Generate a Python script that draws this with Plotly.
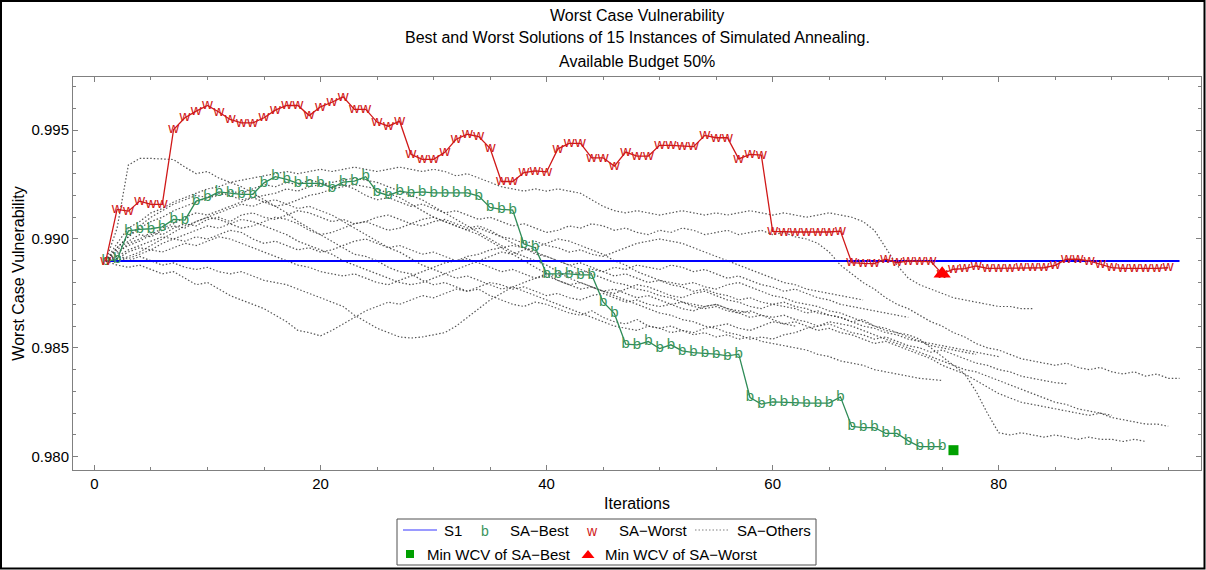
import plotly.graph_objects as go

# ---------------- data ----------------
s1_iterations = [1, 96]
s1_values = [0.98899, 0.98899]

best_values = [
    0.98899, 0.98905, 0.99037, 0.99044, 0.99047, 0.99056, 0.99090, 0.99087, 0.99174, 0.99190,
    0.99216, 0.99212, 0.99205, 0.99205, 0.99258, 0.99286, 0.99274, 0.99255, 0.99255, 0.99255,
    0.99235, 0.99261, 0.99266, 0.99286, 0.99216, 0.99200, 0.99220, 0.99212, 0.99216, 0.99212,
    0.99212, 0.99212, 0.99212, 0.99197, 0.99145, 0.99136, 0.99133, 0.98977, 0.98960, 0.98840,
    0.98840, 0.98840, 0.98835, 0.98835, 0.98711, 0.98657, 0.98517, 0.98514, 0.98529, 0.98497,
    0.98514, 0.98486, 0.98478, 0.98476, 0.98471, 0.98463, 0.98471, 0.98272, 0.98242, 0.98252,
    0.98249, 0.98249, 0.98246, 0.98246, 0.98246, 0.98275, 0.98139, 0.98134, 0.98134, 0.98107,
    0.98107, 0.98073, 0.98046, 0.98046, 0.98046,
]

worst_values = [
    0.98899, 0.99136, 0.99128, 0.99174, 0.99159, 0.99159, 0.99503, 0.99557, 0.99587, 0.99613,
    0.99583, 0.99549, 0.99533, 0.99533, 0.99557, 0.99592, 0.99613, 0.99613, 0.99567, 0.99607,
    0.99628, 0.99653, 0.99595, 0.99595, 0.99537, 0.99518, 0.99541, 0.99389, 0.99366, 0.99366,
    0.99398, 0.99458, 0.99481, 0.99470, 0.99416, 0.99264, 0.99264, 0.99305, 0.99313, 0.99308,
    0.99414, 0.99439, 0.99439, 0.99373, 0.99373, 0.99335, 0.99399, 0.99381, 0.99381, 0.99430,
    0.99430, 0.99427, 0.99424, 0.99476, 0.99465, 0.99465, 0.99368, 0.99389, 0.99385, 0.99035,
    0.99032, 0.99032, 0.99033, 0.99032, 0.99032, 0.99036, 0.98891, 0.98888, 0.98887, 0.98907,
    0.98891, 0.98899, 0.98899, 0.98896, 0.98840, 0.98861, 0.98864, 0.98876, 0.98865, 0.98865,
    0.98865, 0.98868, 0.98868, 0.98868, 0.98879, 0.98907, 0.98907, 0.98899, 0.98884, 0.98868,
    0.98865, 0.98865, 0.98864, 0.98865, 0.98868,
]

best_min_iteration = [76]
best_min_value = [0.98030]
worst_min_iteration = [75]
worst_min_value = [0.98840]

# the 13 remaining annealing runs (grey, dotted)
others_01 = [
    0.98899, 0.99050, 0.99340, 0.99370, 0.99370, 0.99368, 0.99365, 0.99330, 0.99300, 0.99310,
    0.99280, 0.99260, 0.99240, 0.99210, 0.99180, 0.99150, 0.99120, 0.99080, 0.99050, 0.99020,
    0.98990, 0.98960, 0.98930, 0.98920, 0.98900, 0.98870, 0.98850, 0.98840, 0.98810, 0.98790,
    0.98800, 0.98780, 0.98760, 0.98770, 0.98740, 0.98720, 0.98700, 0.98690, 0.98710, 0.98700,
    0.98680, 0.98660, 0.98650, 0.98670, 0.98640, 0.98620, 0.98610, 0.98630, 0.98600, 0.98590,
    0.98600, 0.98580, 0.98570, 0.98590, 0.98600, 0.98610, 0.98590, 0.98580, 0.98600, 0.98620,
    0.98610, 0.98600,
]
others_02 = [
    0.98899, 0.98960, 0.99010, 0.99050, 0.99080, 0.99100, 0.99130, 0.99150, 0.99170, 0.99190,
    0.99200, 0.99220, 0.99210, 0.99230, 0.99250, 0.99240, 0.99260, 0.99250, 0.99270, 0.99260,
    0.99240, 0.99250, 0.99230, 0.99200, 0.99180, 0.99190, 0.99170, 0.99150, 0.99160, 0.99140,
    0.99120, 0.99130, 0.99110, 0.99090, 0.99100, 0.99080, 0.99060, 0.99070, 0.99050, 0.99030,
    0.99040, 0.99060, 0.99050, 0.99070, 0.99060, 0.99040, 0.99050, 0.99030, 0.99020, 0.99040,
    0.99030, 0.99050, 0.99040, 0.99020, 0.99030, 0.99040, 0.99020, 0.99030, 0.99040, 0.99020,
    0.99030, 0.99010, 0.99000, 0.98980, 0.98940, 0.98880, 0.98840, 0.98800, 0.98770, 0.98730,
    0.98700, 0.98680, 0.98650, 0.98620, 0.98600, 0.98570, 0.98550, 0.98520, 0.98500, 0.98490,
    0.98470, 0.98450, 0.98440, 0.98430, 0.98420, 0.98430, 0.98410, 0.98400, 0.98410, 0.98390,
    0.98380, 0.98390, 0.98370, 0.98380, 0.98360, 0.98360,
]
others_03 = [
    0.98899, 0.98930, 0.98980, 0.99000, 0.99030, 0.99020, 0.99050, 0.99070, 0.99060, 0.99090,
    0.99100, 0.99080, 0.99110, 0.99120, 0.99100, 0.99090, 0.99110, 0.99130, 0.99120, 0.99100,
    0.99080, 0.99090, 0.99070, 0.99080, 0.99100, 0.99110, 0.99090, 0.99070, 0.99060, 0.99080,
    0.99090, 0.99070, 0.99050, 0.99060, 0.99040, 0.99010, 0.98980, 0.98960, 0.98930, 0.98920,
    0.98900, 0.98880, 0.98890, 0.98870, 0.98850, 0.98830, 0.98840, 0.98820, 0.98800, 0.98810,
    0.98790, 0.98780, 0.98760, 0.98770, 0.98750, 0.98740, 0.98720, 0.98730, 0.98710, 0.98700,
    0.98690, 0.98680, 0.98660, 0.98670, 0.98650, 0.98640, 0.98620, 0.98630, 0.98600, 0.98580,
    0.98570, 0.98560, 0.98540, 0.98500, 0.98460, 0.98420, 0.98380, 0.98350, 0.98320, 0.98290,
    0.98270, 0.98250, 0.98240, 0.98230, 0.98220, 0.98210, 0.98200, 0.98190, 0.98200, 0.98180,
    0.98170, 0.98160, 0.98150, 0.98150, 0.98140,
]
others_04 = [
    0.98899, 0.98910, 0.98940, 0.98960, 0.98950, 0.98980, 0.99000, 0.98990, 0.99010, 0.99000,
    0.99020, 0.99040, 0.99030, 0.99000, 0.98980, 0.98990, 0.98970, 0.98950, 0.98960, 0.98940,
    0.98950, 0.98970, 0.98990, 0.99000, 0.98980, 0.98960, 0.98970, 0.98950, 0.98930, 0.98940,
    0.98920, 0.98900, 0.98910, 0.98890, 0.98870, 0.98850, 0.98860, 0.98840, 0.98820, 0.98830,
    0.98810, 0.98790, 0.98800, 0.98780, 0.98760, 0.98770, 0.98750, 0.98730, 0.98740, 0.98720,
    0.98700, 0.98710, 0.98690, 0.98680, 0.98690, 0.98670, 0.98660, 0.98640, 0.98650, 0.98630,
    0.98610, 0.98620, 0.98600, 0.98580, 0.98590, 0.98570, 0.98560, 0.98540, 0.98520, 0.98530,
    0.98510, 0.98490, 0.98470, 0.98450, 0.98420, 0.98400, 0.98380, 0.98300, 0.98200, 0.98110,
    0.98100, 0.98110, 0.98100, 0.98090, 0.98100, 0.98090, 0.98080, 0.98090, 0.98080, 0.98080,
    0.98070, 0.98080, 0.98070,
]
others_05 = [
    0.98899, 0.98880, 0.98870, 0.98880, 0.98860, 0.98840, 0.98850, 0.98820, 0.98790, 0.98800,
    0.98770, 0.98740, 0.98720, 0.98700, 0.98680, 0.98650, 0.98620, 0.98580, 0.98570, 0.98555,
    0.98580, 0.98610, 0.98640, 0.98670, 0.98690, 0.98710, 0.98700, 0.98720, 0.98740, 0.98730,
    0.98750, 0.98770, 0.98760, 0.98780, 0.98800, 0.98790, 0.98770, 0.98780, 0.98760, 0.98740,
    0.98750, 0.98730, 0.98720, 0.98740, 0.98750, 0.98730, 0.98710, 0.98720, 0.98700, 0.98690,
    0.98700, 0.98680, 0.98670, 0.98690, 0.98700, 0.98680, 0.98660, 0.98670, 0.98650, 0.98640,
    0.98650, 0.98630, 0.98620, 0.98600, 0.98610, 0.98590, 0.98570, 0.98560, 0.98540, 0.98550,
    0.98530, 0.98510, 0.98500, 0.98480, 0.98490, 0.98470, 0.98450, 0.98430, 0.98420, 0.98400,
    0.98390, 0.98370, 0.98360, 0.98350, 0.98340, 0.98335,
]
others_06 = [
    0.98899, 0.98980, 0.99050, 0.99080, 0.99120, 0.99140, 0.99170, 0.99190, 0.99210, 0.99230,
    0.99240, 0.99260, 0.99270, 0.99280, 0.99290, 0.99300, 0.99310, 0.99300, 0.99310, 0.99320,
    0.99310, 0.99320, 0.99330, 0.99320, 0.99310, 0.99320, 0.99330, 0.99320, 0.99310, 0.99320,
    0.99310, 0.99290, 0.99300, 0.99280, 0.99260, 0.99240, 0.99230, 0.99220, 0.99230, 0.99220,
    0.99230, 0.99220, 0.99210, 0.99180, 0.99150, 0.99130, 0.99120, 0.99130, 0.99120, 0.99110,
    0.99120, 0.99130, 0.99120, 0.99110, 0.99120, 0.99110, 0.99120, 0.99130, 0.99120, 0.99110,
    0.99120, 0.99110, 0.99100, 0.99110, 0.99120, 0.99110, 0.99100, 0.99080, 0.99040, 0.98960,
    0.98880, 0.98820, 0.98790, 0.98770, 0.98750, 0.98730, 0.98720, 0.98710, 0.98700, 0.98690,
    0.98690, 0.98680, 0.98680,
]
others_07 = [
    0.98899, 0.98950, 0.98990, 0.99020, 0.99010, 0.99040, 0.99060, 0.99050, 0.99080, 0.99100,
    0.99120, 0.99140, 0.99160, 0.99150, 0.99170, 0.99180, 0.99160, 0.99140, 0.99150, 0.99130,
    0.99110, 0.99080, 0.99050, 0.99020, 0.98990, 0.98960, 0.98940, 0.98910, 0.98880, 0.98860,
    0.98840, 0.98820, 0.98830, 0.98810, 0.98790, 0.98770, 0.98780, 0.98760, 0.98740, 0.98720,
    0.98700, 0.98680, 0.98660, 0.98640, 0.98620, 0.98600, 0.98590, 0.98580, 0.98600, 0.98590,
    0.98570, 0.98580, 0.98560, 0.98570, 0.98550, 0.98560, 0.98540, 0.98550, 0.98530, 0.98520,
    0.98510, 0.98500, 0.98490, 0.98470, 0.98460, 0.98440, 0.98430, 0.98420, 0.98400, 0.98390,
    0.98380, 0.98370, 0.98360, 0.98355, 0.98350,
]
others_08 = [
    0.98899, 0.98910, 0.98900, 0.98920, 0.98900, 0.98880, 0.98890, 0.98870, 0.98860, 0.98870,
    0.98850, 0.98840, 0.98850, 0.98830, 0.98810, 0.98800, 0.98790, 0.98770, 0.98750, 0.98730,
    0.98710, 0.98690, 0.98650, 0.98620, 0.98590, 0.98570, 0.98550, 0.98545, 0.98550, 0.98560,
    0.98570, 0.98600, 0.98640, 0.98680, 0.98720, 0.98750, 0.98780, 0.98800, 0.98820, 0.98840,
    0.98830, 0.98850, 0.98840, 0.98860, 0.98850, 0.98870, 0.98860, 0.98880, 0.98870, 0.98860,
    0.98880, 0.98870, 0.98850, 0.98860, 0.98840, 0.98820, 0.98830, 0.98810, 0.98790, 0.98780,
    0.98760, 0.98770, 0.98750, 0.98730, 0.98720, 0.98700, 0.98690, 0.98680, 0.98670, 0.98660,
    0.98650, 0.98640,
]
others_09 = [
    0.98899, 0.98960, 0.99010, 0.99060, 0.99100, 0.99130, 0.99160, 0.99180, 0.99200, 0.99190,
    0.99210, 0.99200, 0.99180, 0.99190, 0.99170, 0.99150, 0.99160, 0.99180, 0.99200, 0.99210,
    0.99230, 0.99240, 0.99250, 0.99240, 0.99230, 0.99210, 0.99190, 0.99160, 0.99130, 0.99100,
    0.99080, 0.99060, 0.99040, 0.99050, 0.99030, 0.99010, 0.99000, 0.98980, 0.98990, 0.98970,
    0.98960, 0.98940, 0.98950, 0.98930, 0.98920, 0.98940, 0.98960, 0.98980, 0.98990, 0.99000,
    0.98990, 0.98980, 0.98960, 0.98940, 0.98920, 0.98900, 0.98880, 0.98860, 0.98840, 0.98820,
    0.98800, 0.98790, 0.98770, 0.98760, 0.98750, 0.98740, 0.98730, 0.98720,
]
others_10 = [
    0.98899, 0.98920, 0.98950, 0.98970, 0.98990, 0.99010, 0.99000, 0.99020, 0.99040, 0.99060,
    0.99050, 0.99070, 0.99090, 0.99080, 0.99060, 0.99040, 0.99020, 0.98990, 0.98970, 0.98950,
    0.98930, 0.98900, 0.98880, 0.98860, 0.98840, 0.98820, 0.98800, 0.98790, 0.98800, 0.98820,
    0.98840, 0.98860, 0.98880, 0.98900, 0.98920, 0.98940, 0.98930, 0.98950, 0.98960, 0.98980,
    0.99000, 0.98990, 0.98970, 0.98950, 0.98930, 0.98900, 0.98880, 0.98850, 0.98830, 0.98810,
    0.98800, 0.98790, 0.98800, 0.98780, 0.98770, 0.98790, 0.98800, 0.98780, 0.98760, 0.98740,
    0.98730, 0.98710, 0.98700, 0.98690, 0.98670, 0.98660, 0.98640, 0.98620, 0.98600, 0.98590,
    0.98570, 0.98550, 0.98530, 0.98520, 0.98510, 0.98500, 0.98490, 0.98480, 0.98470, 0.98460,
]
others_11 = [
    0.98899, 0.98940, 0.98970, 0.98990, 0.99020, 0.99050, 0.99070, 0.99100, 0.99120, 0.99110,
    0.99130, 0.99150, 0.99170, 0.99190, 0.99200, 0.99210, 0.99230, 0.99220, 0.99240, 0.99250,
    0.99260, 0.99270, 0.99280, 0.99270, 0.99260, 0.99240, 0.99220, 0.99200, 0.99180, 0.99150,
    0.99120, 0.99090, 0.99060, 0.99030, 0.99000, 0.98970, 0.98940, 0.98920, 0.98900, 0.98880,
    0.98850, 0.98820, 0.98800, 0.98780, 0.98760, 0.98740, 0.98720, 0.98700, 0.98680, 0.98660,
    0.98650, 0.98630, 0.98620, 0.98600, 0.98590, 0.98570, 0.98560, 0.98540, 0.98550, 0.98540,
    0.98560, 0.98570, 0.98590, 0.98600, 0.98620, 0.98610, 0.98600, 0.98580, 0.98560, 0.98540,
    0.98520, 0.98500, 0.98480, 0.98460, 0.98440, 0.98420, 0.98400, 0.98390, 0.98370, 0.98350,
    0.98330, 0.98310, 0.98290, 0.98270, 0.98250, 0.98240, 0.98220, 0.98210, 0.98200, 0.98190,
]
others_12 = [
    0.98899, 0.98920, 0.98910, 0.98930, 0.98950, 0.98940, 0.98960, 0.98980, 0.98970, 0.98990,
    0.99010, 0.99000, 0.98980, 0.98960, 0.98940, 0.98920, 0.98900, 0.98880, 0.98870, 0.98850,
    0.98840, 0.98830, 0.98840, 0.98820, 0.98800, 0.98790, 0.98810, 0.98830, 0.98850, 0.98870,
    0.98890, 0.98900, 0.98920, 0.98930, 0.98950, 0.98960, 0.98970, 0.98960, 0.98940, 0.98920,
    0.98900, 0.98880, 0.98860, 0.98840, 0.98820, 0.98800, 0.98790, 0.98770, 0.98760, 0.98740,
    0.98730, 0.98710, 0.98700, 0.98690, 0.98700, 0.98680, 0.98670, 0.98660,
]
others_13 = [
    0.98899, 0.98900, 0.98920, 0.98940, 0.98970, 0.99000, 0.99030, 0.99060, 0.99080, 0.99100,
    0.99090, 0.99070, 0.99050, 0.99060, 0.99080, 0.99100, 0.99090, 0.99070, 0.99040, 0.99020,
    0.99030, 0.99050, 0.99070, 0.99080, 0.99060, 0.99040, 0.99050, 0.99070, 0.99090, 0.99100,
    0.99080, 0.99060, 0.99040, 0.99020, 0.98990, 0.98960, 0.98930, 0.98900, 0.98870, 0.98840,
    0.98810, 0.98790, 0.98770, 0.98780, 0.98760, 0.98750, 0.98770, 0.98790, 0.98780, 0.98760,
    0.98740, 0.98730, 0.98750, 0.98760, 0.98740, 0.98720, 0.98710, 0.98690, 0.98680, 0.98700,
    0.98710, 0.98690, 0.98680, 0.98660, 0.98650, 0.98640, 0.98620, 0.98600, 0.98590, 0.98570,
    0.98560, 0.98540, 0.98530, 0.98510, 0.98500, 0.98490, 0.98480, 0.98470,
]
others_runs = [others_01, others_02, others_03, others_04, others_05, others_06, others_07,
               others_08, others_09, others_10, others_11, others_12, others_13]

title_lines = ["Worst Case Vulnerability",
               "Best and Worst Solutions of 15 Instances of Simulated Annealing.",
               "Available Budget 50%"]

# ---------------- styling ----------------
FONT = "Liberation Sans, Arial, sans-serif"
W, H = 1206, 570
PLOT_L, PLOT_R, PLOT_T, PLOT_B = 73, 1201, 77, 470
AXIS_GREY = "#808080"
BLUE = "#0000ff"
GREEN_LINE = "#2e8b57"
GREEN_TXT = "#3a955c"
RED = "#d01818"
OTHERS = "rgba(55,55,55,0.85)"


def px_x(px):
    return (px - PLOT_L) / (PLOT_R - PLOT_L)


def px_y(py):
    return (PLOT_B - py) / (PLOT_B - PLOT_T)


def iters(vals):
    return list(range(1, len(vals) + 1))


fig = go.Figure()

for run in others_runs:
    fig.add_trace(go.Scatter(
        x=iters(run), y=run, mode="lines",
        line=dict(color=OTHERS, width=1.2, dash="1.5px,2px"),
        showlegend=False, hoverinfo="skip"))

fig.add_trace(go.Scatter(
    x=s1_iterations, y=s1_values, mode="lines", name="S1",
    line=dict(color=BLUE, width=2), showlegend=False))

fig.add_trace(go.Scatter(
    x=iters(best_values), y=best_values, mode="lines+text", name="SA-Best",
    text=["b"] * len(best_values), textposition="middle center",
    textfont=dict(family=FONT, size=15, color=GREEN_TXT),
    line=dict(color=GREEN_LINE, width=1.3), showlegend=False))

fig.add_trace(go.Scatter(
    x=iters(worst_values), y=worst_values, mode="lines+text", name="SA-Worst",
    text=["w"] * len(worst_values), textposition="middle center",
    textfont=dict(family=FONT, size=15, color=RED),
    line=dict(color=RED, width=1.3), showlegend=False))

fig.add_trace(go.Scatter(
    x=best_min_iteration, y=best_min_value, mode="markers",
    marker=dict(symbol="square", size=10, color="#00a000"), showlegend=False))
fig.add_trace(go.Scatter(
    x=worst_min_iteration, y=worst_min_value, mode="markers",
    marker=dict(symbol="triangle-up", size=15, color="#ff0000"), showlegend=False))

# ---------------- titles and hand-built legend ----------------
annotations = []
for text, py in zip(title_lines, [15, 38, 61]):
    annotations.append(dict(text=text, x=0.5, y=px_y(py), xref="paper", yref="paper",
                            xanchor="center", yanchor="middle", showarrow=False,
                            font=dict(family=FONT, size=16, color="black")))

row1, row2 = 530, 554
legend_texts = [("S1", 442, row1), ("SA\u2212Best", 508, row1), ("SA\u2212Worst", 617, row1),
                ("SA\u2212Others", 735, row1), ("Min WCV of SA\u2212Best", 425, row2),
                ("Min WCV of SA\u2212Worst", 603, row2)]
for text, px, py in legend_texts:
    annotations.append(dict(text=text, x=px_x(px), y=px_y(py), xref="paper", yref="paper",
                            xanchor="left", yanchor="middle", showarrow=False,
                            font=dict(family=FONT, size=15, color="black")))
for glyph, px, color in [("b", 485, GREEN_TXT), ("w", 592, RED)]:
    annotations.append(dict(text=glyph, x=px_x(px), y=px_y(row1 + 1), xref="paper", yref="paper",
                            xanchor="center", yanchor="middle", showarrow=False,
                            font=dict(family=FONT, size=14, color=color)))

shapes = [
    # outer frame of the picture
    dict(type="rect", xref="paper", yref="paper", x0=px_x(1), x1=px_x(1204.5),
         y0=px_y(568.5), y1=px_y(1), line=dict(color="black", width=2)),
    # legend box
    dict(type="rect", xref="paper", yref="paper", x0=px_x(397), x1=px_x(816),
         y0=px_y(565), y1=px_y(519), line=dict(color="#505050", width=1)),
    dict(type="line", xref="paper", yref="paper", x0=px_x(403), x1=px_x(437),
         y0=px_y(row1), y1=px_y(row1), line=dict(color="#7878ff", width=1.5)),
    dict(type="line", xref="paper", yref="paper", x0=px_x(695), x1=px_x(728),
         y0=px_y(row1), y1=px_y(row1), line=dict(color="#808080", width=1.2, dash="1.5px,2px")),
    dict(type="rect", xref="paper", yref="paper", x0=px_x(406), x1=px_x(414),
         y0=px_y(558), y1=px_y(550), fillcolor="#00a000", line=dict(width=0)),
    dict(type="path", xref="paper", yref="paper",
         path=f"M {px_x(581.5)} {px_y(558)} L {px_x(594.5)} {px_y(558)} L {px_x(588)} {px_y(550)} Z",
         fillcolor="#ff0000", line=dict(width=0)),
]

axis_common = dict(
    showline=True, linecolor=AXIS_GREY, linewidth=1, mirror="ticks",
    ticks="inside", ticklen=5, tickcolor=AXIS_GREY, tickwidth=1,
    showgrid=False, zeroline=False,
    tickfont=dict(family=FONT, size=15, color="black"),
)

fig.update_layout(
    width=W, height=H,
    margin=dict(l=PLOT_L, r=W - PLOT_R, t=PLOT_T, b=H - PLOT_B),
    paper_bgcolor="white", plot_bgcolor="white",
    font=dict(family=FONT, size=15, color="black"),
    showlegend=False,
    annotations=annotations, shapes=shapes,
    xaxis=dict(axis_common, range=[-1.9, 97.9], tick0=0, dtick=20,
               minor=dict(dtick=5, ticks="inside", ticklen=3, tickcolor=AXIS_GREY, showgrid=False),
               title=dict(text="Iterations", font=dict(family=FONT, size=16), standoff=6)),
    yaxis=dict(axis_common, range=[0.97939, 0.99744], tick0=0.98, dtick=0.005, tickformat=".3f",
               minor=dict(dtick=0.001, ticks="inside", ticklen=3, tickcolor=AXIS_GREY, showgrid=False),
               title=dict(text="Worst Case Vulnerability", font=dict(family=FONT, size=16), standoff=2)),
)

# the page body has a default 8px margin; drop it so the figure sits at the window origin
fig.write_html("out.html", config={"displayModeBar": False},
               post_script="document.body.style.margin='0';")
